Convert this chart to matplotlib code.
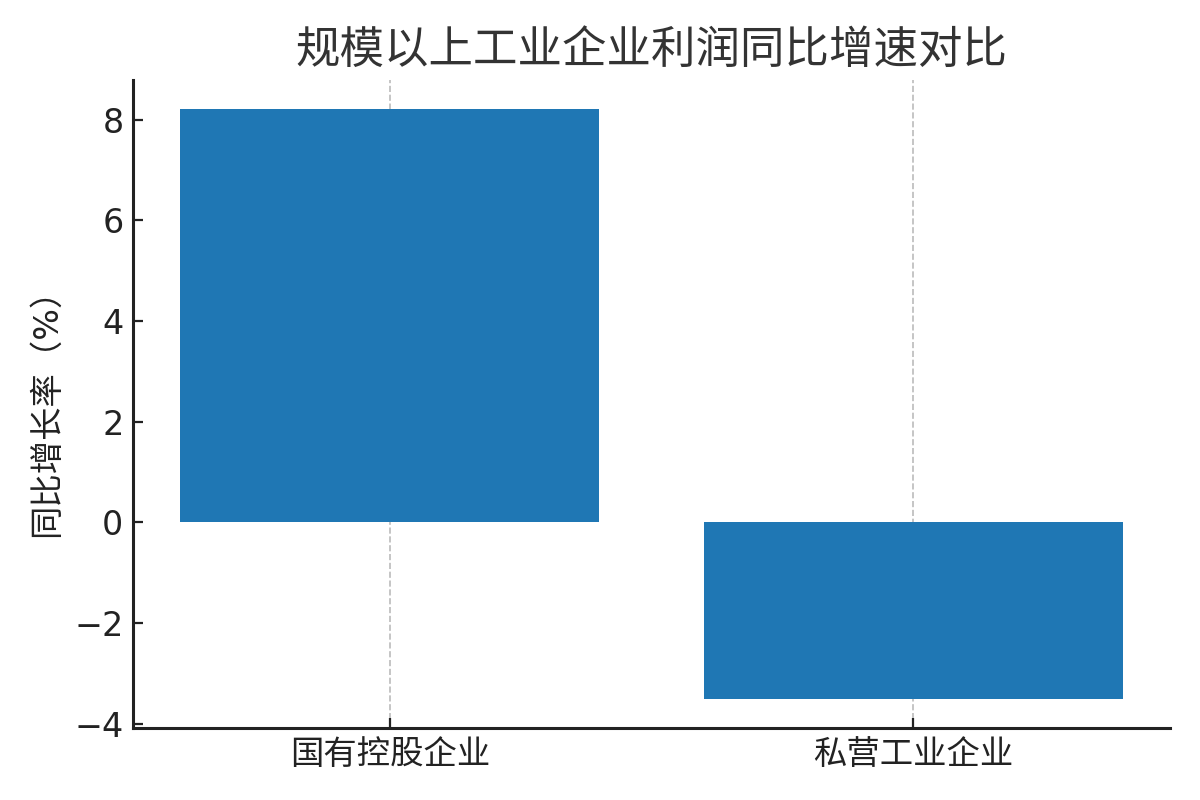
import matplotlib
matplotlib.use('Agg')
import matplotlib.pyplot as plt

plt.rcParams['font.family'] = ['DejaVu Sans', 'Noto Sans CJK SC']

categories = ['国有控股企业', '私营工业企业']
values = [8.2, -3.5]

fig, ax = plt.subplots(figsize=(6, 4), dpi=200)
ax.bar(categories, values, width=0.8, color='#1f77b4', zorder=2)

ax.set_title('规模以上工业企业利润同比增速对比', fontsize=16, color='#333333')
ax.set_ylabel('同比增长率（%）', fontsize=12, color='#222222')
ax.tick_params(axis='both', direction='in', labelsize=12, colors='#222222', length=3.5)
ax.grid(axis='x', linestyle='--', color='#bbbbbb', linewidth=0.6, zorder=0)
ax.spines['top'].set_visible(False)
ax.spines['right'].set_visible(False)
for s in ['left', 'bottom']:
    ax.spines[s].set_linewidth(1.1)
    ax.spines[s].set_color('#222222')

fig.subplots_adjust(left=0.111, right=0.975, top=0.9, bottom=0.09)
fig.savefig('out.png', dpi=200)
